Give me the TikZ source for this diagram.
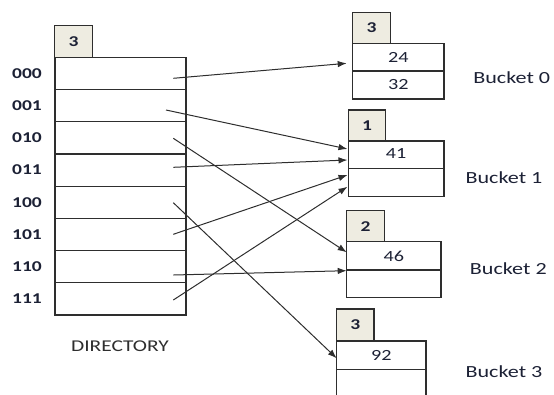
\documentclass[tikz,border=0pt]{standalone}
\usepackage{fontspec}
\setmainfont{Carlito}
\newfontfamily\widefont[FakeStretch=1.3]{Carlito}
\usetikzlibrary{arrows.meta,calc}
\definecolor{edge}{HTML}{2E2E2E}
\definecolor{tabfill}{HTML}{EEECE1}
\definecolor{ink}{HTML}{1C2135}
\tikzset{
  cell/.style={draw=edge, line width=1.2pt, fill=white, inner sep=0pt, font=\widefont\fontsize{15.5}{15.5}\selectfont, text=ink},
  tabcell/.style={cell, fill=tabfill, font=\widefont\bfseries\fontsize{15}{15}\selectfont},
  rowlabel/.style={font=\widefont\bfseries\fontsize{15}{15}\selectfont, text=ink, inner sep=0pt},
  bucketlabel/.style={font=\widefont\fontsize{17}{17}\selectfont, text=ink, inner sep=0pt},
  ptr/.style={draw=edge, line width=1pt, -{Latex[length=9pt,width=6.5pt]}}
}
\begin{document}
\begin{tikzpicture}[x=1pt,y=-1pt]
\useasboundingbox (0,0) rectangle (554,394);

% directory: global depth tab and eight slots
\node[tabcell, minimum width=38pt, minimum height=31.6pt] (dtab) at (73.5,41.5) {3};
\foreach \i/\lab in {0/000,1/001,2/010,3/011,4/100,5/101,6/110,7/111}{
  \node[cell, minimum width=131pt, minimum height=32.2pt] (d\i) at (120.5,{73.4+32.2*\i}) {};
  \node[rowlabel] (l\i) at (27,{73.4+32.2*\i}) {\lab};
}
\node[font=\widefont\fontsize{16.5}{16.5}\selectfont, text=edge] (dirlabel) at (120,346) {DIRECTORY};

% bucket 0
\node[tabcell, minimum width=37.6pt, minimum height=31pt] (t0) at (371.5,27.8) {3};
\node[cell, minimum width=91.3pt, minimum height=27.7pt] (b0a) at (398.3,57.2) {24};
\node[cell, minimum width=91.3pt, minimum height=28pt] (b0b) at (398.3,85) {32};
\node[bucketlabel] (n0) at (511.7,78) {Bucket 0};

% bucket 1
\node[tabcell, minimum width=37.4pt, minimum height=31pt] (t1) at (367,125.5) {1};
\node[cell, minimum width=95.7pt, minimum height=27.3pt] (b1a) at (396.2,154.7) {\raisebox{3pt}{41}};
\node[cell, minimum width=95.7pt, minimum height=28.4pt] (b1b) at (396.2,182.5) {};
\node[bucketlabel] (n1) at (504,177.7) {Bucket 1};

% bucket 2
\node[tabcell, minimum width=37.6pt, minimum height=31pt] (t2) at (365.5,226.2) {2};
\node[cell, minimum width=94.3pt, minimum height=28.3pt] (b2a) at (393.9,255.9) {46};
\node[cell, minimum width=94.3pt, minimum height=27.7pt] (b2b) at (393.9,283.9) {};
\node[bucketlabel] (n2) at (508.3,268.3) {Bucket 2};

% bucket 3
\node[tabcell, minimum width=37.3pt, minimum height=32pt] (t3) at (355.4,325) {3};
\node[cell, minimum width=89.3pt, minimum height=28.3pt] (b3a) at (381.4,355.2) {92};
\node[cell, minimum width=89.3pt, minimum height=28.3pt] (b3b) at (381.4,383.5) {};
\node[bucketlabel] (n3) at (504,371.7) {Bucket 3};

% pointer tails inside the directory slots
\coordinate (s0) at (173.3,78.3);
\coordinate (s1) at (166,110);
\coordinate (s2) at (173.3,138.3);
\coordinate (s3) at (173.3,167.3);
\coordinate (s4) at (173.3,202.7);
\coordinate (s5) at (173.3,234.3);
\coordinate (s6) at (173.3,275);
\coordinate (s7) at (173.3,300);

% pointer heads at the buckets
\coordinate (e0) at (346.7,63.3);
\coordinate (e1) at (347.5,149);
\coordinate (e3) at (347.5,160);
\coordinate (e5) at (347.5,175);
\coordinate (e7) at (347.5,186.7);
\coordinate (e2) at (346.7,252.3);
\coordinate (e6) at (346.7,270.7);
\coordinate (e4) at (336.7,358.3);

\foreach \k in {0,...,7}{
  \draw[ptr] (s\k) -- (e\k);
}
\end{tikzpicture}
\end{document}
